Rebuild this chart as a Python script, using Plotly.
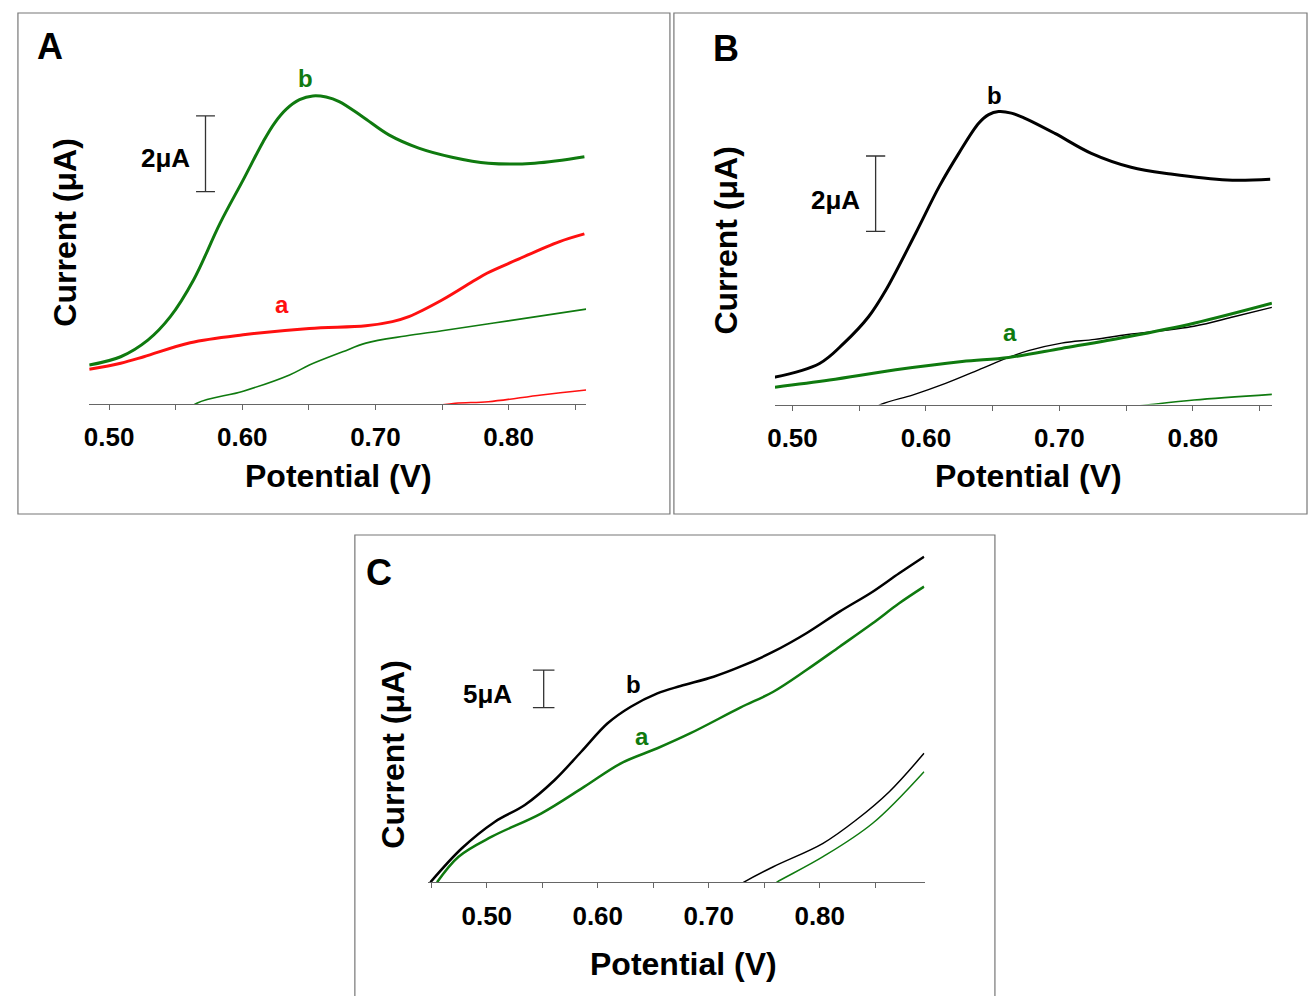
import plotly.graph_objects as go

# ---------------- data (Potential in V, Current in uA above baseline) ----------------
# Panel A
a_b_fwd_x = [0.4851, 0.5087, 0.5291, 0.5460, 0.5634, 0.5833, 0.6007, 0.6157, 0.6240, 0.6331, 0.6430, 0.6530,
             0.6630, 0.6728, 0.6903, 0.7101, 0.7325, 0.7575, 0.7848, 0.8196, 0.8569]
a_b_fwd_y = [1.03, 1.25, 1.69, 2.31, 3.28, 4.78, 5.93, 6.94, 7.42, 7.80, 8.05, 8.15,
             8.12, 8.00, 7.60, 7.12, 6.77, 6.53, 6.37, 6.37, 6.54]
a_a_fwd_x = [0.4851, 0.5087, 0.5261, 0.5609, 0.6007, 0.6504, 0.6928, 0.7127, 0.7251, 0.7500,
             0.7749, 0.7837, 0.8060, 0.8378, 0.8569]
a_a_fwd_y = [0.92, 1.08, 1.25, 1.62, 1.83, 2.00, 2.07, 2.18, 2.31, 2.75,
             3.28, 3.46, 3.81, 4.29, 4.50]
a_b_rev_x = [0.5500, 0.5659, 0.6007, 0.6355, 0.6504, 0.6754, 0.6928, 0.7226, 0.7500, 0.7997, 0.8582]
a_b_rev_y = [-0.40, 0.02, 0.34, 0.77, 1.03, 1.38, 1.61, 1.80, 1.94, 2.20, 2.51]
a_a_rev_x = [0.7400, 0.7599, 0.7848, 0.8246, 0.8582]
a_a_rev_y = [-0.08, 0.02, 0.06, 0.24, 0.37]

# Panel B
b_b_fwd_x = [0.4862, 0.5203, 0.5386, 0.5570, 0.5700, 0.5923, 0.6098, 0.6246, 0.6395, 0.6470, 0.6544,
             0.6640, 0.6742, 0.6966, 0.7239, 0.7537, 0.7835, 0.8257, 0.8579]
b_b_fwd_y = [0.72, 1.09, 1.63, 2.33, 3.04, 4.55, 5.78, 6.67, 7.47, 7.70, 7.78,
             7.74, 7.60, 7.20, 6.67, 6.30, 6.12, 5.96, 5.98]
b_a_fwd_x = [0.4869, 0.5278, 0.5774, 0.6271, 0.6619, 0.7016, 0.7512, 0.8008, 0.8592]
b_a_fwd_y = [0.46, 0.65, 0.92, 1.14, 1.25, 1.49, 1.80, 2.16, 2.69]
b_b_rev_x = [0.5500, 0.5663, 0.5899, 0.6147, 0.6395, 0.6619, 0.6768, 0.7016, 0.7264, 0.7512,
             0.8008, 0.8306, 0.8592]
b_b_rev_y = [-0.35, 0.00, 0.25, 0.56, 0.92, 1.25, 1.43, 1.63, 1.73, 1.86,
             2.08, 2.33, 2.58]
b_a_rev_x = [0.7400, 0.7686, 0.8008, 0.8592]
b_a_rev_y = [-0.12, 0.00, 0.12, 0.27]

# Panel C
c_b_fwd_x = [0.4492, 0.4776, 0.5074, 0.5343, 0.5612, 0.5851, 0.6089, 0.6298, 0.6537, 0.6746,
             0.7044, 0.7284, 0.7582, 0.7880, 0.8179, 0.8477, 0.8716, 0.8940]
c_b_fwd_y = [0.00, 4.52, 8.05, 10.27, 13.59, 17.34, 21.12, 23.32, 25.10, 26.07,
             27.30, 28.63, 30.62, 33.07, 35.94, 38.59, 41.04, 43.24]
c_a_fwd_x = [0.4552, 0.4746, 0.5045, 0.5493, 0.5880, 0.6209, 0.6537, 0.6836, 0.7284,
             0.7582, 0.7880, 0.8179, 0.8477, 0.8716, 0.8940]
c_a_fwd_y = [0.00, 3.40, 6.06, 9.16, 12.70, 15.80, 17.80, 19.80, 23.19,
             25.31, 28.19, 31.29, 34.40, 37.05, 39.26]
c_b_rev_x = [0.7200, 0.7313, 0.7582, 0.8030, 0.8328, 0.8627, 0.8940]
c_b_rev_y = [-1.00, 0.00, 2.07, 5.18, 8.27, 12.03, 17.13]
c_a_rev_x = [0.7500, 0.7611, 0.8030, 0.8477, 0.8940]
c_a_rev_y = [-1.00, 0.00, 3.40, 7.84, 14.69]

tick_vals = [0.50, 0.60, 0.70, 0.80]
tick_text = ["0.50", "0.60", "0.70", "0.80"]
x_title = "Potential (V)"
y_title = "Current (μA)"

GREEN = "#0f7a0f"
RED = "#ff1010"
BLACK = "#000000"
FONT = "Liberation Sans, Arial, sans-serif"

W, H = 1308, 996


def px(x):
    return x / W


def py(y):
    return 1 - y / H


fig = go.Figure()


def add(xs, ys, color, width, ax):
    fig.add_trace(go.Scatter(x=xs, y=ys, mode="lines", line=dict(color=color, width=width, shape="spline", smoothing=1.0),
                             xaxis="x" + ax, yaxis="y" + ax, showlegend=False, hoverinfo="skip"))


add(a_b_rev_x, a_b_rev_y, GREEN, 1.6, "")
add(a_a_rev_x, a_a_rev_y, RED, 1.6, "")
add(a_a_fwd_x, a_a_fwd_y, RED, 3, "")
add(a_b_fwd_x, a_b_fwd_y, GREEN, 3, "")

add(b_b_rev_x, b_b_rev_y, BLACK, 1.4, "2")
add(b_a_rev_x, b_a_rev_y, GREEN, 1.6, "2")
add(b_a_fwd_x, b_a_fwd_y, GREEN, 3, "2")
add(b_b_fwd_x, b_b_fwd_y, BLACK, 3, "2")

add(c_b_rev_x, c_b_rev_y, BLACK, 1.5, "3")
add(c_a_rev_x, c_a_rev_y, GREEN, 1.5, "3")
add(c_b_fwd_x, c_b_fwd_y, BLACK, 2.5, "3")
add(c_a_fwd_x, c_a_fwd_y, GREEN, 2.5, "3")


def xaxis(domain, rng, anchor):
    return dict(domain=domain, range=rng, anchor=anchor, showline=True, linecolor="#666666", linewidth=1.2,
                ticks="outside", ticklen=5, tickcolor="#666666", tickwidth=1,
                tickvals=tick_vals, ticktext=tick_text, ticklabelstandoff=5,
                tickfont=dict(family=FONT, size=26, color="#000", weight="bold"),
                minor=dict(ticks="outside", ticklen=5, tickcolor="#666666", tickwidth=1, dtick=0.05, tick0=0.45),
                showgrid=False, zeroline=False, fixedrange=True)


def yaxis(domain, rng, anchor):
    return dict(domain=domain, range=rng, anchor=anchor, visible=False, showgrid=False, zeroline=False, fixedrange=True)


fig.update_layout(
    width=W, height=H, margin=dict(l=0, r=0, t=0, b=0),
    paper_bgcolor="white", plot_bgcolor="rgba(0,0,0,0)", showlegend=False,
    xaxis=xaxis([px(81.7), px(581.7)], [0.48507, 0.85821], "y"),
    yaxis=yaxis([py(404), py(60)], [0, 9.1005], "x"),
    xaxis2=xaxis([px(771.7), px(1271.7)], [0.48690, 0.85920], "y2"),
    yaxis2=yaxis([py(404.5), py(60)], [0, 9.1501], "x2"),
    xaxis3=xaxis([px(422.7), px(922.3)], [0.44717, 0.89456], "y3"),
    yaxis3=yaxis([py(882.3), py(545)], [0, 44.794], "x3"),
)

# panel borders
for x0, y0, x1, y1 in [(10, 13, 666, 514), (670, 13, 1307, 514), (349, 535, 993, 1002)]:
    fig.add_shape(type="rect", xref="paper", yref="paper", x0=px(x0), x1=px(x1), y0=py(y1), y1=py(y0),
                  line=dict(color="#777777", width=1.2), layer="below")

# scale bars (data coordinates)
scale_bars = [("", 0.5724, 5.62, 2, 0.0071), ("2", 0.5623, 4.60, 2, 0.0072), ("3", 0.5513, 23.19, 5, 0.0097)]
for ax, xv, y0, span, cap in scale_bars:
    xr, yr = "x" + ax, "y" + ax
    st = dict(color="#333333", width=1.3)
    fig.add_shape(type="line", xref=xr, yref=yr, x0=xv, x1=xv, y0=y0, y1=y0 + span, line=st)
    fig.add_shape(type="line", xref=xr, yref=yr, x0=xv - cap, x1=xv + cap, y0=y0, y1=y0, line=st)
    fig.add_shape(type="line", xref=xr, yref=yr, x0=xv - cap, x1=xv + cap, y0=y0 + span, y1=y0 + span, line=st)


def note(text, x, y, size, color="#000", xref="paper", yref="paper", angle=0):
    fig.add_annotation(text=text, x=x, y=y, xref=xref, yref=yref, showarrow=False, textangle=angle,
                       xanchor="center", yanchor="middle",
                       font=dict(family=FONT, size=size, color=color, weight="bold"))


# scale-bar labels
note("2μA", 0.5425, 6.51, 26, xref="x", yref="y")
note("2μA", 0.5324, 5.43, 26, xref="x2", yref="y2")
note("5μA", 0.5007, 25.0, 26, xref="x3", yref="y3")

# curve labels
note("b", 0.6472, 8.62, 24, GREEN, "x", "y")
note("a", 0.6301, 2.62, 24, RED, "x", "y")
note("b", 0.6517, 8.22, 24, BLACK, "x2", "y2")
note("a", 0.6631, 1.90, 24, GREEN, "x2", "y2")
note("b", 0.6322, 26.29, 24, BLACK, "x3", "y3")
note("a", 0.6402, 19.34, 24, GREEN, "x3", "y3")

# panel letters
note("A", px(42), py(46), 36)
note("B", px(722), py(48), 36)
note("C", px(373), py(572), 36)

# axis titles
note(y_title, px(57), py(233), 32, angle=-90)
note(y_title, px(722), py(241), 32, angle=-90)
note(y_title, px(387), py(755), 32, angle=-90)
note(x_title, px(333), py(476), 32)
note(x_title, px(1027), py(476), 32)
note(x_title, px(680), py(964), 32)

fig.write_html("out.html", config={"displayModeBar": False},
               post_script="document.body.style.margin='0';document.body.style.overflow='hidden';")
